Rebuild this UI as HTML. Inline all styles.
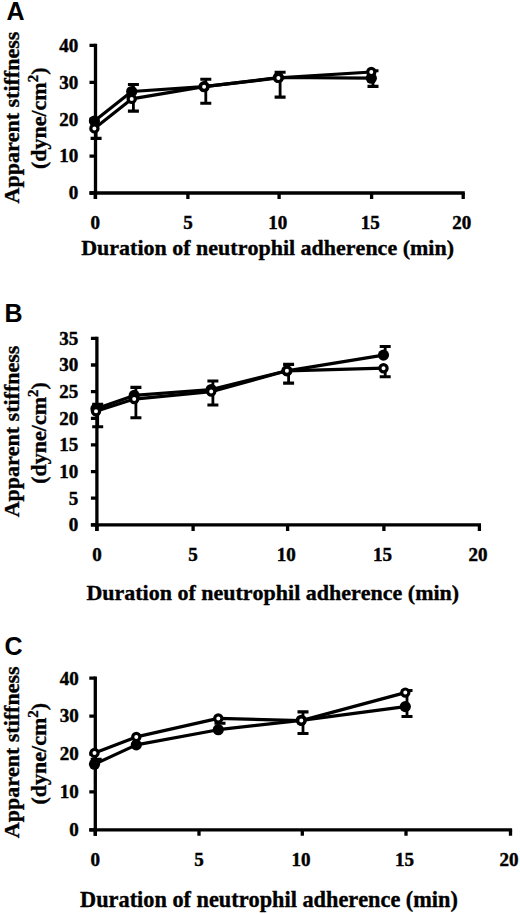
<!DOCTYPE html>
<html><head><meta charset="utf-8"><style>
html,body{margin:0;padding:0;background:#fff;}
svg{display:block;}
text{font-variant-ligatures:none;font-feature-settings:'liga' 0,'kern' 0;}
.pl{font-family:"Liberation Sans",sans-serif;font-weight:bold;font-size:25px;fill:#000;}
.tl{font-family:"Liberation Serif",serif;font-weight:bold;font-size:19px;fill:#000;stroke:#000;stroke-width:0.45px;}
.tt{font-family:"Liberation Serif",serif;font-weight:bold;font-size:22px;fill:#000;stroke:#000;stroke-width:0.35px;}
.sup{font-size:15px;}
.ax{stroke:#000;stroke-width:3.3;fill:none;stroke-linecap:butt;stroke-linejoin:miter;}
.eb{stroke:#000;stroke-width:2.8;fill:none;}
.cp{stroke:#000;stroke-width:3.1;fill:none;}
.ln{stroke:#000;stroke-width:3.2;fill:none;stroke-linejoin:round;}
.fc{fill:#000;}
.oc{fill:#fff;stroke:#000;}
</style></head><body>
<svg width="520" height="914" viewBox="0 0 520 914">
<rect width="520" height="914" fill="#fff"/>
<text x="6.5" y="20.1" class="pl">A</text>
<path d="M95.5 43.8 V199 M89.5 193 H464.8" class="ax"/>
<text x="78.3" y="199.3" class="tl" text-anchor="end">0</text>
<text x="78.3" y="162.4" class="tl" text-anchor="end">10</text>
<text x="78.3" y="125.5" class="tl" text-anchor="end">20</text>
<text x="78.3" y="88.6" class="tl" text-anchor="end">30</text>
<text x="78.3" y="51.7" class="tl" text-anchor="end">40</text>
<text x="95.3" y="228.5" class="tl" text-anchor="middle">0</text>
<text x="187.9" y="228.5" class="tl" text-anchor="middle">5</text>
<text x="277.7" y="228.5" class="tl" text-anchor="middle">10</text>
<text x="370.2" y="228.5" class="tl" text-anchor="middle">15</text>
<text x="461.8" y="228.5" class="tl" text-anchor="middle">20</text>
<path d="M89.5 193 H95.5 M89.5 156.1 H95.5 M89.5 119.2 H95.5 M89.5 82.3 H95.5 M89.5 45.4 H95.5 M95.3 193 V199 M187.9 193 V199 M279.1 193 V199 M371.6 193 V199 M463.2 193 V199" class="ax"/>
<text x="267.6" y="254.8" class="tt" text-anchor="middle">Duration of neutrophil adherence (min)</text>
<text transform="translate(18.7 117.6) rotate(-90)" class="tt" text-anchor="middle">Apparent stiffness</text>
<text transform="translate(45.5 118.3) rotate(-90)" class="tt" text-anchor="middle">(dyne/cm<tspan dy="-7.5" class="sup">2</tspan><tspan dy="7.5">)</tspan></text>
<path d="M96.1 128.4 V138.4 M133.4 91.5 V84.5 M133.4 98.9 V111.1 M205.8 86.7 V79.3 M205.8 86.7 V103.3 M280.1 77.5 V72.3 M280.1 77.9 V97.1 M373 72 V70.7 M373 78.2 V86.4" class="eb"/>
<path d="M90.6 138.4 H101.6 M127.9 84.5 H138.9 M127.9 111.1 H138.9 M200.3 79.3 H211.3 M200.3 103.3 H211.3 M274.6 72.3 H285.6 M274.6 97.1 H285.6 M367.5 70.7 H378.5 M367.5 86.4 H378.5" class="cp"/>
<polyline points="94.4,121 131.7,91.5 204.1,86.7 278.4,77.5 371.3,78.2" class="ln"/>
<polyline points="94.4,128.4 131.7,98.9 204.1,86.7 278.4,77.9 371.3,72" class="ln"/>
<circle cx="94.4" cy="121" r="5.6" class="fc"/>
<circle cx="131.7" cy="91.5" r="5.6" class="fc"/>
<circle cx="204.1" cy="86.7" r="5.6" class="fc"/>
<circle cx="278.4" cy="77.5" r="5.6" class="fc"/>
<circle cx="371.3" cy="78.2" r="5.6" class="fc"/>
<circle cx="94.4" cy="128.4" r="3.6" stroke-width="3.2" class="oc"/>
<circle cx="131.7" cy="98.9" r="3.6" stroke-width="3.2" class="oc"/>
<circle cx="204.1" cy="86.7" r="3.6" stroke-width="3.2" class="oc"/>
<circle cx="278.4" cy="77.9" r="3.6" stroke-width="3.2" class="oc"/>
<circle cx="371.3" cy="72" r="3.6" stroke-width="3.2" class="oc"/>
<text x="4.5" y="322.4" class="pl">B</text>
<path d="M96.9 336.7 V530.9 M90.9 524.9 H481" class="ax"/>
<text x="78.3" y="531.2" class="tl" text-anchor="end">0</text>
<text x="78.3" y="504.5" class="tl" text-anchor="end">5</text>
<text x="78.3" y="477.9" class="tl" text-anchor="end">10</text>
<text x="78.3" y="451.2" class="tl" text-anchor="end">15</text>
<text x="78.3" y="424.6" class="tl" text-anchor="end">20</text>
<text x="78.3" y="397.9" class="tl" text-anchor="end">25</text>
<text x="78.3" y="371.3" class="tl" text-anchor="end">30</text>
<text x="78.3" y="344.6" class="tl" text-anchor="end">35</text>
<text x="96.9" y="561" class="tl" text-anchor="middle">0</text>
<text x="193.1" y="561" class="tl" text-anchor="middle">5</text>
<text x="286.2" y="561" class="tl" text-anchor="middle">10</text>
<text x="382.5" y="561" class="tl" text-anchor="middle">15</text>
<text x="478" y="561" class="tl" text-anchor="middle">20</text>
<path d="M90.9 524.9 H96.9 M90.9 498.2 H96.9 M90.9 471.6 H96.9 M90.9 444.9 H96.9 M90.9 418.3 H96.9 M90.9 391.6 H96.9 M90.9 365 H96.9 M90.9 338.3 H96.9 M96.9 524.9 V530.9 M193.1 524.9 V530.9 M287.6 524.9 V530.9 M383.9 524.9 V530.9 M479.4 524.9 V530.9" class="ax"/>
<text x="272.8" y="600" class="tt" text-anchor="middle">Duration of neutrophil adherence (min)</text>
<text transform="translate(18.8 431.5) rotate(-90)" class="tt" text-anchor="middle">Apparent stiffness</text>
<text transform="translate(45.5 433) rotate(-90)" class="tt" text-anchor="middle">(dyne/cm<tspan dy="-7.5" class="sup">2</tspan><tspan dy="7.5">)</tspan></text>
<path d="M97.7 408.7 V404.4 M97.7 411.3 V426.8 M135.9 395.4 V387.4 M135.9 399.1 V417.7 M212.9 389.5 V381 M212.9 391.6 V405 M288.6 370.8 V364.4 M288.6 370.8 V383.1 M385.2 355.1 V346.5 M385.2 368.2 V376.7" class="eb"/>
<path d="M92.2 404.4 H103.2 M92.2 426.8 H103.2 M130.4 387.4 H141.4 M130.4 417.7 H141.4 M207.4 381 H218.4 M207.4 405 H218.4 M283.1 364.4 H294.1 M283.1 383.1 H294.1 M379.7 346.5 H390.7 M379.7 376.7 H390.7" class="cp"/>
<polyline points="96,408.7 134.2,395.4 211.2,389.5 286.9,370.8 383.5,355.1" class="ln"/>
<polyline points="96,411.3 134.2,399.1 211.2,391.6 286.9,370.8 383.5,368.2" class="ln"/>
<circle cx="96" cy="408.7" r="5.6" class="fc"/>
<circle cx="134.2" cy="395.4" r="5.6" class="fc"/>
<circle cx="211.2" cy="389.5" r="5.6" class="fc"/>
<circle cx="286.9" cy="370.8" r="5.6" class="fc"/>
<circle cx="383.5" cy="355.1" r="5.6" class="fc"/>
<circle cx="96" cy="411.3" r="3.6" stroke-width="3.2" class="oc"/>
<circle cx="134.2" cy="399.1" r="3.6" stroke-width="3.2" class="oc"/>
<circle cx="211.2" cy="391.6" r="3.6" stroke-width="3.2" class="oc"/>
<circle cx="286.9" cy="370.8" r="3.6" stroke-width="3.2" class="oc"/>
<circle cx="383.5" cy="368.2" r="3.6" stroke-width="3.2" class="oc"/>
<text x="4.6" y="655" class="pl">C</text>
<path d="M95.3 676.5 V835.8 M89.3 829.8 H512.1" class="ax"/>
<text x="78.7" y="836.1" class="tl" text-anchor="end">0</text>
<text x="78.7" y="798.2" class="tl" text-anchor="end">10</text>
<text x="78.7" y="760.3" class="tl" text-anchor="end">20</text>
<text x="78.7" y="722.4" class="tl" text-anchor="end">30</text>
<text x="78.7" y="684.5" class="tl" text-anchor="end">40</text>
<text x="95.3" y="865.9" class="tl" text-anchor="middle">0</text>
<text x="199" y="865.9" class="tl" text-anchor="middle">5</text>
<text x="300.9" y="865.9" class="tl" text-anchor="middle">10</text>
<text x="404.6" y="865.9" class="tl" text-anchor="middle">15</text>
<text x="509.1" y="865.9" class="tl" text-anchor="middle">20</text>
<path d="M89.3 829.8 H95.3 M89.3 791.9 H95.3 M89.3 754 H95.3 M89.3 716.1 H95.3 M89.3 678.2 H95.3 M95.3 829.8 V835.8 M199 829.8 V835.8 M302.3 829.8 V835.8 M406 829.8 V835.8 M510.5 829.8 V835.8" class="ax"/>
<text x="269" y="907" class="tt" text-anchor="middle" style="font-size:22.3px">Duration of neutrophil adherence (min)</text>
<text transform="translate(18.8 752.3) rotate(-90)" class="tt" text-anchor="middle">Apparent stiffness</text>
<text transform="translate(45.5 753.7) rotate(-90)" class="tt" text-anchor="middle">(dyne/cm<tspan dy="-7.5" class="sup">2</tspan><tspan dy="7.5">)</tspan></text>
<path d="M96.2 764.2 V759.3 M220 718.4 V723.3 M303 720.6 V711.9 M303 720.6 V733.5 M407 692.6 V690.5 M407 706.6 V716.5 M407 692.6 V704.7" class="eb"/>
<path d="M90.7 759.3 H101.7 M214.5 723.3 H225.5 M297.5 711.9 H308.5 M297.5 733.5 H308.5 M401.5 690.5 H412.5 M401.5 716.5 H412.5" class="cp"/>
<polyline points="94.5,764.2 136.3,744.9 218.3,729.7 301.3,720.3 405.3,706.6" class="ln"/>
<polyline points="94.5,752.9 136.3,736.9 218.3,718.4 301.3,720.6 405.3,692.6" class="ln"/>
<circle cx="94.5" cy="764.2" r="5.6" class="fc"/>
<circle cx="136.3" cy="744.9" r="5.6" class="fc"/>
<circle cx="218.3" cy="729.7" r="5.6" class="fc"/>
<circle cx="301.3" cy="720.3" r="5.6" class="fc"/>
<circle cx="405.3" cy="706.6" r="5.6" class="fc"/>
<circle cx="94.5" cy="752.9" r="3.6" stroke-width="3.2" class="oc"/>
<circle cx="136.3" cy="736.9" r="3.6" stroke-width="3.2" class="oc"/>
<circle cx="218.3" cy="718.4" r="3.6" stroke-width="3.2" class="oc"/>
<circle cx="301.3" cy="720.6" r="3.6" stroke-width="3.2" class="oc"/>
<circle cx="405.3" cy="692.6" r="3.6" stroke-width="3.2" class="oc"/>
</svg>
</body></html>
